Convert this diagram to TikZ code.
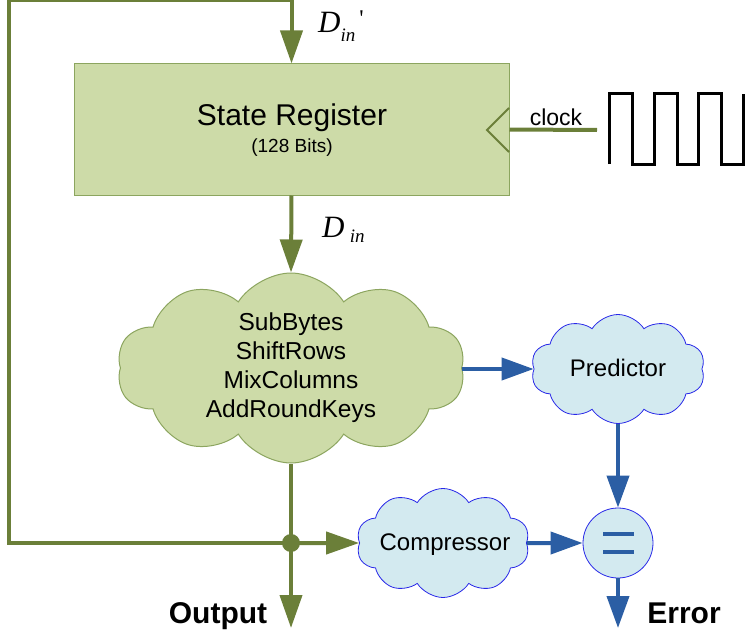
\documentclass[tikz,border=0pt]{standalone}
\usepackage{fontspec}
\setmainfont{Liberation Sans}
\newfontfamily\serifit{Liberation Serif}
\usetikzlibrary{shapes.symbols,arrows.meta}
\definecolor{gline}{RGB}{107,127,57}
\definecolor{gfill}{RGB}{205,219,168}
\definecolor{gborder}{RGB}{140,165,95}
\definecolor{bline}{RGB}{43,94,164}
\definecolor{bfill}{RGB}{211,234,240}
\definecolor{bborder}{RGB}{40,40,232}
\tikzset{
  gconn/.style={draw=gline,line width=4pt},
  garrow/.style={gconn,-{Triangle[length=33pt,width=22pt]}},
  bconn/.style={draw=bline,line width=4pt},
  barrow/.style={bconn,-{Triangle[length=32pt,width=22pt]}},
  regbox/.style={draw=gborder,fill=gfill,line width=1pt,minimum width=435pt,minimum height=131pt,inner sep=0pt},
  greencloud/.style={cloud,cloud puffs=10,cloud puff arc=115,draw=gborder,fill=gfill,line width=1pt,minimum width=348pt,minimum height=190pt,inner sep=0pt},
  bluecloud/.style={cloud,cloud puffs=10,cloud puff arc=115,draw=bborder,fill=bfill,line width=0.8pt,inner sep=0pt},
  lbl/.style={inner sep=0pt,anchor=base},
}
\begin{document}
\begin{tikzpicture}[x=1pt,y=-1pt]
\useasboundingbox (0,0) rectangle (745,634);
% state register
\node[regbox] (sr) at (291.5,129.5) {};
\node[lbl,font=\fontsize{30}{36}\selectfont] (srt) at (292,125) {State Register};
\node[lbl,font=\fontsize{19}{22}\selectfont] (srb) at (292,153) {(128 Bits)};
% clock
\draw[draw=gline,line width=2pt] (509,108) -- (487,130) -- (509,152);
\coordinate (clk) at (597,130);
\draw[gconn] (clk) -- (sr.east);
\node[lbl,font=\fontsize{23}{26}\selectfont] (clkt) at (556,125) {clock};
\draw[line width=3pt,line join=miter] (609,164) -- (609,94) -- (632,94) -- (632,164) -- (654,164) -- (654,94) -- (677,94) -- (677,164) -- (698,164) -- (698,94) -- (721,94) -- (721,164) -- (743,164) -- (743,94);
% operations cloud
\node[greencloud] (ops) at (291,368) {};
\node[inner sep=0pt,align=center,font=\fontsize{24.5}{29}\selectfont] (opst) at (291,368) {SubBytes\\ShiftRows\\MixColumns\\AddRoundKeys};
% junction
\node[circle,fill=gline,minimum size=18pt,inner sep=0pt] (j) at (291,543) {};
\coordinate (tl) at (9,0.5);
\coordinate (out) at (291,628);
\draw[garrow,line join=miter] (j.center) -| (tl) -| (sr.north);
\draw[garrow] (sr.south) -- (ops.north);
\draw[gconn] (ops.south) -- (j.center);
\draw[garrow] (j.center) -- (out);
% labels D_in
\node[lbl,anchor=base west,font=\serifit\itshape\fontsize{31}{31}\selectfont] (din1) at (318,33) {D\raisebox{-9pt}{\fontsize{19}{19}\selectfont in}\raisebox{6pt}{\upshape\fontsize{24}{24}\selectfont\,'}};
\node[lbl,anchor=base west,font=\serifit\itshape\fontsize{31}{31}\selectfont] (din2) at (322,237) {D\,\raisebox{-5pt}{\fontsize{19}{19}\selectfont in}};
% blue part
\node[bluecloud,minimum width=174pt,minimum height=109pt] (pred) at (618,369) {};
\node[lbl,font=\fontsize{24}{28}\selectfont] (predt) at (618,376) {Predictor};
\node[bluecloud,minimum width=173pt,minimum height=109pt] (comp) at (443,543) {};
\node[lbl,font=\fontsize{24}{28}\selectfont] (compt) at (445,550) {Compressor};
\node[circle,draw=bborder,fill=bfill,line width=0.8pt,minimum size=70pt,inner sep=0pt] (eq) at (618,543) {};
\draw[bconn] (603,534) -- (634,534);
\draw[bconn] (603,552) -- (634,552);
\coordinate (err) at (618,628);
\draw[garrow] (j.center) -- (comp.west);
\draw[barrow] (ops.east |- pred.west) -- (pred.west);
\draw[barrow] (pred.south) -- (eq.north);
\draw[barrow] (comp.east) -- (eq.west);
\draw[barrow] (eq.south) -- (err);
\node[lbl,font=\bfseries\fontsize{30}{34}\selectfont] (outt) at (218,623) {Output};
\node[lbl,font=\bfseries\fontsize{30}{34}\selectfont] (errt) at (684,623) {Error};
\end{tikzpicture}
\end{document}
